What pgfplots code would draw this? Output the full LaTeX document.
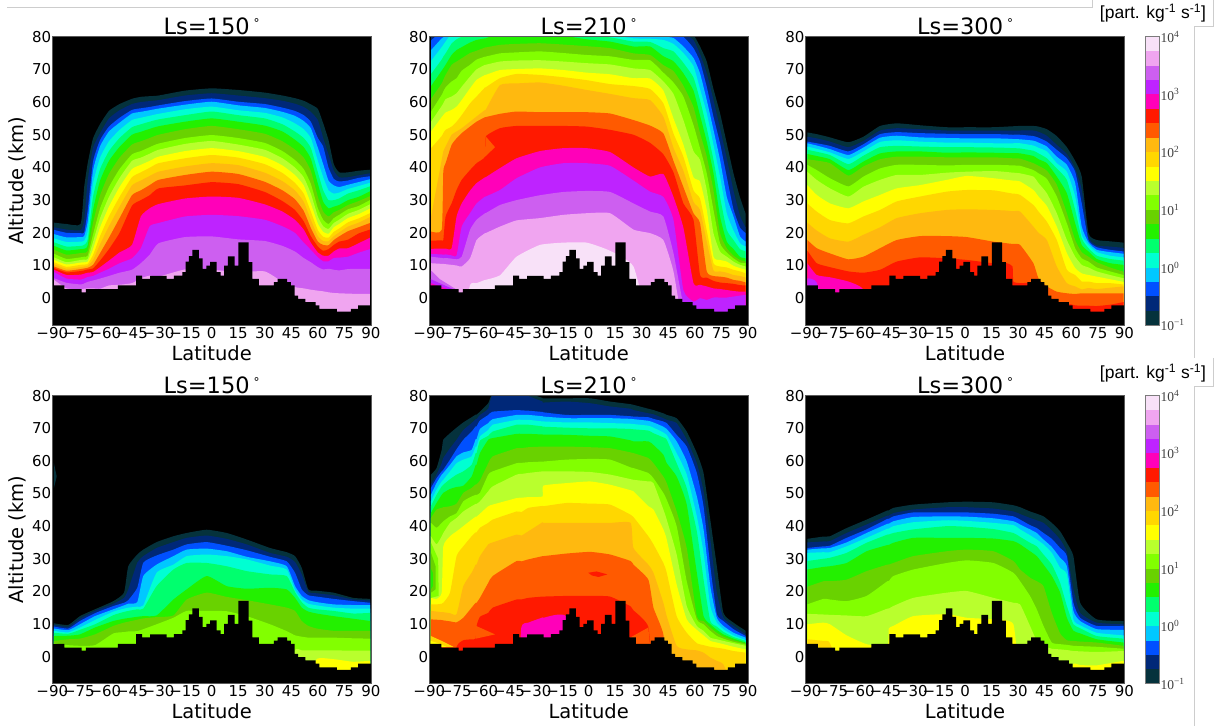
\documentclass[border=0pt]{standalone}
\usepackage{fontspec}
\setmainfont{DejaVu Sans}
\newfontfamily\libsans{Liberation Sans}
\newfontfamily\libserif{Liberation Serif}
\usepackage{pgfplots}
\usepackage{pgfplotstable}
\pgfplotsset{compat=1.18}
\definecolor{c1}{RGB}{5,50,60}
\definecolor{c2}{RGB}{0,40,120}
\definecolor{c3}{RGB}{0,80,255}
\definecolor{c4}{RGB}{0,200,255}
\definecolor{c5}{RGB}{0,255,210}
\definecolor{c6}{RGB}{0,255,110}
\definecolor{c7}{RGB}{35,240,0}
\definecolor{c8}{RGB}{105,210,0}
\definecolor{c9}{RGB}{130,255,0}
\definecolor{c10}{RGB}{185,255,45}
\definecolor{c11}{RGB}{255,255,0}
\definecolor{c12}{RGB}{255,215,0}
\definecolor{c13}{RGB}{255,185,15}
\definecolor{c14}{RGB}{255,90,0}
\definecolor{c15}{RGB}{255,25,0}
\definecolor{c16}{RGB}{255,0,185}
\definecolor{c17}{RGB}{190,35,255}
\definecolor{c18}{RGB}{205,95,240}
\definecolor{c19}{RGB}{240,165,240}
\definecolor{c20}{RGB}{248,225,248}
\definecolor{frame}{RGB}{90,90,90}
\definecolor{deco}{RGB}{205,205,205}

\pgfplotstableread{
lat alt
-90 -8.2
-90 3.9
-83.2 2.75
-73.4 1.8
-71 2.75
-52.9 3.9
-42.7 6.9
-39.2 5.9
-34.8 6.8
-25.4 5.9
-21.3 6.9
-16.6 8
-14.7 11.2
-12.8 12.9
-10.9 14.8
-7.2 12.2
-5.1 9
-3 10
-0.9 11.1
2.8 8
5.1 6.9
7 10
9.2 12.8
13 10
15.1 17.1
20.9 11
23 5.9
26.7 3.9
35.2 4.9
37.3 5.9
42.7 4.9
44.8 3.9
46.9 0.8
48.8 -0.2
52.9 -1.2
58.7 -2.2
60.8 -3.3
70.8 -4.1
78.7 -3.3
82.7 -2.2
90 -2.2
90 -8.2
}\terrain

\pgfplotstableread{
lat L1 L2 L3 L4 L5 L6 L7 L8 L9 L10 L11 L12 L13 L14 L15 L16 L17 L18 L19
-89 23.1 21.7 20.9 19.6 18.3 17.1 16 14.8 13.6 12.5 11.7 11 10.4 9.7 9.2 8.7 8 6.1 5.6
-82 22.7 21 20 18.6 17.2 15.8 14.6 13.3 12 11 10.3 9.6 9 8.4 7.9 7.1 6 4.7 3
-74 22.7 20.8 19.9 18.7 17.3 16 15 13.8 12.5 11.7 10.9 10.2 9.5 8.9 8.3 7.2 5.7 4.2 2.7
-72 34 24 20.1 19 17.6 16.3 15.1 13.9 12.7 11.8 11 10.3 9.7 9.1 8.5 7.5 6 4.5 2.9
-70 41.3 36 27 23.5 20.5 18 16.2 14.5 13 12 11.2 10.5 9.9 9.3 8.8 7.8 6.5 5 3
-67 48.9 46 41.8 39 35 31 27 23 19.5 17.2 15 13.2 11.7 10.2 9.1 8 6.8 5.4 3
-63 53.3 50.5 48.4 46.5 43 39.5 36 31.5 27.5 24.5 21.7 19 16.5 13.8 11.5 9.5 7.8 6 2.9
-58 57.3 55 52.5 51 48 45 42 38 34 31 28 25 22 18.5 15 11.5 9 6.8 3.9
-52 59.4 57.5 55.2 53.7 51.5 49 46.3 43 39.5 36.8 34 31 28 24.5 20 14 10.7 7.8 4.1
-45 61 59.4 57.6 56.5 54.5 52.3 50 47 44 42 39.5 37 34.5 31.5 28.3 16.3 12.2 8.7 4.6
-40 61.6 60 58.1 57 55.2 53.2 50.9 48 45 43 40.8 38.5 36 33 30 25 15.3 10.7 6.1
-35 61.8 60.3 58.5 57.5 55.8 54 51.8 49 46.2 44.2 42 39.9 37.4 34.6 31.5 27.5 22 13.3 6.9
-30 62 60.6 59 58 56.4 54.7 52.6 50 47.3 45.4 43.3 41.3 38.7 36.2 33.6 28.8 23 16.8 6.6
-15 63.5 62 60.3 59.2 57.8 56 54 51.7 49 47.2 45 42.8 40.3 37.7 34.5 30.5 25 18.7 8.8
0 64.2 62.7 61.1 60.1 58.6 57.1 55 52.7 49.9 48.1 45.9 43.8 41.3 38.7 35.5 31.1 25.5 18.9 8.7
15 63.7 62 60.1 59 57.5 56 54 51.7 49 47 45 43 40.7 38 34.9 30.7 25.1 18 8
30 62.9 61.2 59.4 58.2 56.7 55 52.8 50.3 47.5 45.4 43.2 41 38.4 35.6 32.5 28.7 24 17.5 8.2
40 62 60.4 58.3 57 55.3 53.2 51 48 45 42.8 40.6 38.3 35.8 33 29.7 26.5 22 16 5
47 61.2 59.5 57.3 55.8 53.5 51 48.5 45.5 42.3 40 37.7 35.3 33 30.3 27 24 20 14.3 3.4
52 60.4 58.5 56 54.2 51.7 49 46.2 43 39.5 37 34.5 32 29.5 26.7 23.5 21 17 12.3 3
56 59.3 57 54 52 49 46 42.7 39 35 32 29 26.5 24 21.5 19 17 14.8 11 2.6
60 57.9 54.5 49 46 42 38.5 35 31 27.5 25 22.8 20.8 19 17.3 15.8 14 12.5 9.5 2.3
63 53.5 49 46.4 41 37 33 29.5 26.5 24 22 20.3 18.8 17.5 16.3 14.5 13 11.3 8.8 2.1
66 48.4 44 40 36 33 30 27.5 25 22.7 21.2 19.7 18.5 17.4 16.2 15 13 11.3 9 1.8
69 41 39 36.5 34.5 32 30 28 26.3 24.5 23 21.7 20.3 19 17.8 16.3 14.3 12.3 8.7 1.6
72 38.5 37 35.7 34 32.3 30.5 28.5 27 25.5 24 22.7 21.3 20.1 18.9 17.3 15.2 12.4 8.5 1.5
77 38.5 37 36 34.7 33.4 32 30 28.5 27.2 25.8 24.5 23.2 21.9 20.5 17.9 15.3 12.7 8.9 1.4
83 39 37.6 36.8 35.5 34.3 33 31 29.7 28.2 27 25.7 24.4 23.1 21.7 19.8 16.8 13.9 9 1.3
89.4 39.3 38.2 37.3 36.4 35.3 34.2 32.7 31.2 30 28.7 27.4 26 24.8 23 21 18.5 15 9 1.3
}\tabA

\pgfplotstableread{
lat L1 L2 L3 L4 L5 L6 L7 L8 L9 L10 L11 L12 L13 L14 L15 L16 L17 L18 L19 L20
-89 81 80.5 78.8 75.9 72.6 68.6 64.9 61 57.1 54 51 45.9 25 20.4 17.6 15.1 13.5 12.7 10.7 -9
-83 85 84 82 79.5 76.8 73 69.6 65.7 62.2 58.8 55.4 49.6 42.3 20.9 17.7 15.2 13.4 12.3 10.5 -9
-82.1 85 84 83 79.8 77.5 73.9 70.3 66.8 63.2 59.6 56 50.5 44.9 38.7 17.8 15.2 13.3 12.2 10.5 -9
-80.8 85 85 84 81 78.5 74.9 71.4 68.3 64.5 60.9 56.8 51.5 46.4 41.3 25 15.2 13.4 12.3 10.4 -9
-77.4 85 85 84 82 81 77.9 74.4 71.4 66.3 61.7 57.6 52.5 50 46.9 29 15.3 13.1 12.1 10.2 -9
-74.6 85 85 84 82 81 79.2 75.9 72.4 67.3 62.7 58.6 54 51 48.9 33.1 25 13.1 11.9 10 -9
-71.7 85 85 84 82 81 80 76.8 73.4 69.6 64.7 60.6 56 52 50.5 36.2 29 21.9 12.7 9.7 -9
-67 85 85 84 82 82 81 78.2 75 71.4 67.8 64.2 59.6 54 52.5 39.2 32.9 26 20.9 12.2 4
-63.3 85 85 84 82 82 81.5 79 75.7 73 70 66.8 61.7 55.6 54 41.3 35.2 29 24 17.8 4.6
-58.5 85 85 84 83 82 81 79.5 76.7 73.9 71.4 68.3 64.5 57.6 55.4 43.3 37 31.1 26 19.9 5.6
-58.2 85 85 84 83 82 81 79.5 76.7 73.9 71.4 68.3 64.5 57.6 55.4 49.4 37 31.1 26 19.9 5.6
-50.1 85 85 84 83 82 81.5 81 77.5 74.9 72.4 69.8 67.3 65.2 56.4 52 39.8 33.1 28.5 21.9 7
-40.7 85 85 84 83 82 81.5 81 77.8 75.2 72.7 70.1 68.6 65.7 57.1 52.7 42.8 36.7 30 23.8 12.7
-27.5 85 85 84 83 82 81.5 81 78 75.5 72.8 70.3 68.3 66 56.9 52.7 45 40 31.5 24.5 16.3
-14.3 85 85 84 83 82 81 80.3 77.6 75 72.4 69.8 67.6 65 56.9 52.7 45.9 41.3 32.5 25.5 17
-1.1 85 85 84 83 81 80.4 79.2 77.1 74.4 71.9 69 66.7 63.7 56.9 52.5 45.9 41.3 32.8 26 17
12.1 85 85 84 81 80.5 79.8 78.5 76.5 74 71.5 68.5 65.5 62.5 56.5 51.5 44.7 40.5 32.5 26 14.5
25.3 85 85 81 80.3 79.5 78.5 77 74.9 72.9 70.3 67.3 64.9 61.2 54.5 50 40 36 29 21 9.7
34.7 85 82 81 80.5 79.4 78.4 77 74.4 72.8 69.8 67.2 64 60.6 52.8 47.5 37.2 32.6 26.5 19.9 -9
42.2 83 82 81 80 79 76.5 74 71.3 69 66.3 63.5 59.6 55.5 50.4 44 38 31 25 17.8 -9
47.9 83 82 81 79.6 77.8 75.5 72.5 69.5 66 62.5 55 50.4 46 42 38.5 31 24 13.8 8.2 -9
53.5 82 81 80 77 75 72 68.8 65 61.7 54.5 47 43.3 39 34 29 21.6 2.5 -2 -9 -9
59.2 80.5 79 76.5 73.5 71 67.5 63.5 58.5 53 45 37 33 29.5 26 24 4.6 -1 -9 -9 -9
62.9 77 74.7 72.4 68.8 64 60.6 55.9 50.5 45.9 42.3 35.7 30.5 27 23 7.1 4.1 0 -9 -9 -9
66.7 72.4 68.8 64.7 60.6 56.6 52 47.9 43.3 38.2 33.1 27 20.7 17.3 8.2 6.3 3.6 -0.5 -9 -9 -9
70.5 64 60.6 55.5 51.5 46.9 42.3 38.2 33 27 19.9 12.7 10.7 8.5 6.8 5.3 3 0.2 -9 -9 -9
74.2 56.6 52 47.4 42.3 37.2 31 25 19.9 16.8 14.3 11.7 9.7 8.2 6.6 4.8 2.8 0.2 -9 -9 -9
78 47.4 42.8 37.2 31 26 20.9 17.3 15.3 14 12.7 11.2 9.4 7.8 6.3 4.6 2.5 0.2 -9 -9 -9
81.8 38.2 32.9 27.2 25 20.7 17.8 15 13 12.2 11.2 9.9 8.7 7.1 5.6 4.4 2.2 0.5 -9 -9 -9
85.5 30.8 25.2 21.6 18.9 16.8 15 12.6 11.7 10.9 10.2 9.2 8.2 6.8 5.3 4 2 0.8 -9 -9 -9
88.7 25.8 21.6 19.9 17.3 15.8 14.3 12.2 11.2 10.7 9.7 8.7 7.6 6.3 4.8 3.9 2 1 -9 -9 -9
}\tabB

\pgfplotstableread{
lat L1 L2 L3 L4 L5 L6 L7 L8 L9 L10 L11 L12 L13 L14 L15 L16 L17
-89.1 50.7 49.4 47.9 47.4 46.4 45.4 44.1 42.5 40.8 38.7 34.6 29 23.1 17.8 14.6 10.7 6.1
-83.8 50.2 48.9 47.4 46.7 45.7 44.8 43.5 42.1 39.2 36.2 31.6 26.5 20.7 15.3 10.7 7.1 4.8
-76.3 49.2 47.9 46.6 45.6 44.6 43.8 42.5 41.3 36.7 33.6 29 23.9 18.3 13.7 9.5 6.4 -9
-65.9 47.7 46.2 44.9 43.8 42.6 41 39.2 37.5 34.2 31.1 27.5 22.9 17.3 11.9 8.2 5.1 -9
-57.4 49.4 48.1 47.1 46.1 44.9 43.6 41.8 40.3 37.2 34.1 29.6 25 19.4 12.7 7.8 2.7 -9
-48 52.7 51.3 50.2 49.1 47.8 46.2 44.3 42.5 39.7 36.2 31.6 27 21.7 15.3 8.7 -9 -9
-38.6 53.5 52 50.8 49.7 48.3 46.6 44.9 43.3 40.8 37.7 33.6 29.6 24.5 17.8 11.2 -9 -9
-25.4 52.9 51.7 50.5 49.2 47.9 46.4 44.9 43.3 40.8 37.7 34.6 31.1 26 19 12.5 -9 -9
-10.3 52.3 51.3 50.3 49 47.6 46.2 44.5 43.1 40.6 38.4 36.2 32.6 27 19 12.2 -9 -9
1 52.3 51.3 50.2 48.9 47.6 46.2 44.6 43.1 40.8 38.7 37.4 33.1 27.2 18.7 11.7 -9 -9
16 52.3 51.3 50.2 48.9 47.4 46.1 44.5 43.1 40.8 38.9 36.7 33 27 17.3 10.7 -9 -9
23.6 52.5 51.3 50.1 48.8 47.4 46 44.4 42.9 40.7 38.6 36.2 32.3 26.8 16.8 10.7 -9 -9
26.8 52.6 51.3 50 48.7 47.4 45.9 44.4 42.8 40.6 38.4 36 32 26.6 16.6 9.7 -9 -9
27.3 52.6 51.3 50 48.7 47.4 45.9 44.4 42.8 40.6 38.4 36 32 26.6 16.6 5.1 -9 -9
31.1 52.7 51.3 50 48.6 47.4 45.8 44.3 42.7 40.5 38.2 35.7 31.6 26.5 16.3 4.6 -9 -9
38.6 52.7 51.3 49.6 48.2 46.7 45.1 43.5 41.3 39.2 37.2 33.1 28.5 21.9 10.7 4 -9 -9
41.5 52.5 50.9 49.1 47.6 46 44.3 42.5 40.5 38.2 35.2 31.1 26.5 20 6 -9 -9 -9
46.2 51.7 49.7 47.9 46.4 44.9 42.8 41.3 39 36.5 32.1 28.2 23.4 17.8 3.6 -9 -9 -9
51.8 49.6 46.9 45.4 43.3 41.3 39.7 37.2 34.7 31.1 26 21.9 17.8 9.7 2 -9 -9 -9
57.5 46.2 44.1 42.8 40.8 38.7 36.2 32.1 26 22.9 17.8 13.8 8.7 4.6 1.5 -2 -9 -9
62.2 42 39.7 38.7 35.2 31.1 27 22.9 17.8 15.3 12.7 9.2 7.1 3.6 1.3 -2.2 -9 -9
65.9 37.2 33.1 29 21.9 19.4 18.3 16.3 14.1 12.2 10.2 7.6 5.1 2.7 1.5 -2.3 -9 -9
69.7 19.9 18.7 17.8 17.1 16.3 15.3 14.3 12.7 11.2 9.4 7.1 5.1 3.1 1.5 -2.3 -9 -9
74.4 17.8 16.1 15.6 14.8 14.1 13 12 11 9.4 8.2 6.6 4.6 2.8 1.5 -2.4 -9 -9
81.9 17.4 15.8 14.8 14.1 13 12 10.7 9.4 8.2 7.1 5.8 4.6 3.2 1.5 -2 -9 -9
89.5 17 15.4 14.3 13.6 12.5 11.5 10.2 8.1 7.1 6.1 5 4.2 3.6 1.5 -1.2 -9 -9
}\tabC

\pgfplotstableread{
lat L1 L2 L3 L4 L5 L6 L7 L8 L9 L10 L11
-89.1 10.2 9.7 9.2 8.6 7.9 7.3 6.3 4.8 4.1 -9 -9
-81 9.7 9.1 8.6 8.1 7.4 7 6.4 5.3 3.5 -9 -9
-74.4 12.4 11.6 10.9 9.9 8.9 8.2 6.8 5.5 3.3 -9 -9
-65.9 14.5 14 13.3 12.4 11.2 9.9 8.9 6.8 3.5 -9 -9
-55.5 17 16.2 15.5 14.5 13.8 12.7 10.9 9.4 7.1 -9 -9
-49.5 19.6 18 16.5 15.7 14.7 13.7 11.6 10.4 7.5 -9 -9
-47.1 27.7 20.6 17.3 16.2 15 14 11.8 10.7 7.7 -9 -9
-42 31.3 28.8 21.1 16.7 15.3 14.5 12.2 11.3 7.8 -9 -9
-38.6 32.8 30.8 28.8 24.7 15.7 14.7 12.4 11.7 8.4 -9 -9
-31.1 35.1 33.3 31 28.2 25.7 21.6 12.6 12.1 9.9 -9 -9
-21.6 36.9 35.1 32.8 30.8 28.2 26.7 17.5 12.6 11.9 -9 -9
-14.1 37.9 36.4 34.4 32.8 30.8 28.7 20.6 17.5 14 -9 -9
-2.8 38.9 37.1 35.1 33.1 31.3 28.7 24.7 19.6 14 -9 -9
8.5 37.9 36.1 34 32.3 30.8 27.7 21.6 18.3 13.9 -9 -9
19.8 35.9 34.4 32.6 30.6 29.8 26.2 20.8 17.3 12.4 -9 -9
33 33.3 31.8 30.6 29.2 27.9 25.2 21.1 16 9.9 -9 -9
42.4 32 30.6 29.2 27.7 26.7 24.7 20.6 15 7.8 -9 -9
47.1 30.8 29 25.7 21.6 20.4 19.8 18 14 6.5 2 -9
50.9 27.2 25.2 20.6 18.6 17.5 16.7 15 10.9 6.1 1.9 -9
54.6 20.6 19.9 18.8 17.3 16.2 15 13.8 9.4 5.8 1.9 -9
59.3 20.2 19.4 18.4 16.7 15.7 14.5 13.2 8.6 5.8 1.9 -0.8
68.8 19.6 18.8 17.7 16 15 14 12.4 7.9 5.8 1.9 -0.8
80 18 17.5 17 15.8 14.7 13.2 11.6 7.9 5.6 1.8 -1.6
89.5 17.7 17.2 16.5 15.8 14.7 13.4 10.9 7.9 5.5 1.8 -1.3
}\tabD

\pgfplotstableread{
lat L1 L2 L3 L4 L5 L6 L7 L8 L9 L10 L11 L12 L13 L14 L15 L16
-89.1 55.8 52.7 51.7 49.6 47.6 46.1 44 42.5 41 36.9 18 16 14 11.4 -9 -9
-85.9 57.8 55.8 54.7 53.2 51.2 49.6 47.1 45.1 39.5 34.4 17.7 16 13.8 11.3 -9 -9
-83 63.4 59.3 56.8 55.8 53.7 52.2 49.6 45.6 41 36.9 19.6 16.2 13.6 11.2 -9 -9
-82.1 66.5 60.9 57.3 56.3 54.2 52.7 50.2 45.8 41.5 37.9 33.8 16.5 13.6 11.1 -9 -9
-78.3 68.5 63.9 60.4 58.8 56.8 54.4 51.4 46.1 43 41 36.9 19.6 13.3 10.8 -9 -9
-74.6 70.2 66.5 63.6 61.4 59.3 55.8 52 46.9 44 42.5 38.4 30.8 13 10.5 3 -9
-70.8 71.8 69.5 66.5 62.6 60.4 56.8 52.4 50.2 47.6 44.5 40 33.8 21.6 11.9 5 -9
-66.1 73.4 71.6 69 63.4 61.4 58.8 55.2 51.7 49.1 46.1 42 36.9 25.7 15 5.3 -9
-63.8 74.2 72.8 70.6 66.7 64.4 62.4 58.8 52.8 49.6 46.8 42.9 38.1 28.2 16.5 5.5 -9
-63.3 74.2 72.8 70.6 66.7 64.4 62.4 58.8 52.8 49.6 46.8 42.9 38.1 28.2 16.5 9.4 -9
-61.4 75.1 74.1 72.4 69.8 67.5 66.2 62.4 54 50.2 47.6 43.8 39.5 30.8 18 12.2 -9
-56.7 77.7 76 74.1 71.6 69.5 67.7 66.5 59.3 55.8 50.7 46.1 41 34.4 22.6 13.4 -9
-54.2 80.4 80.2 75.1 72.8 71.1 69 67 61.4 56.8 52.2 46.6 42 35 24.7 15 -9
-40.7 80.7 80.7 75.6 74.1 72.6 71.1 68.3 63.9 59.3 55.8 48.6 44.5 37.4 29.3 17.5 -9
-38 80.7 80.7 75.5 74.1 72.6 71.1 68.3 63.9 59.4 56 48.7 44.3 37.1 29.2 17.5 9
-34.1 80.7 79.9 75.4 74.1 72.6 71.1 68.3 64.2 59.6 56.3 48.9 45.6 38.4 29.8 18 10.4
-26 79.3 78.2 75 73.7 72.1 70.6 68.1 64.4 59.8 56.8 49.1 46.2 41.2 30.8 18.4 12
-25.6 79.2 77.9 74.9 73.6 72.1 70.5 68.1 64.4 59.8 56.8 52.4 46.1 41 30.8 18.4 11.9
-12.4 79.2 78.2 74.1 73.1 71.8 70.2 68 64.4 60.4 56.8 53.2 47.1 41 31.6 18.6 12.2
0.8 79.2 77.7 74.1 73.1 71.8 70 67.7 64.2 60.6 56.6 53.7 46.9 41 32.1 18.6 -9
12.1 78.2 76.7 74.1 73.1 71.6 70 67.5 63.9 60.4 55.8 52.7 46.6 41 31.3 18.4 -9
23.7 77.4 76 73.7 72.9 71.4 69.8 66.3 62.6 58 54.4 51 43.5 41 29.3 15.4 -9
25.3 77.2 75.6 73.6 72.8 71.3 69.7 66 62.4 57.8 54.2 50.7 42.8 33.3 28.2 14.2 -9
33.7 76 74.6 73.4 72.3 70.8 69.3 66 60.9 56.3 53.7 46.1 36.9 28.2 23.6 9.1 -9
36.6 75.6 74.3 72.9 71.8 70.2 68.5 64.9 59.3 54.7 53.2 45.1 34.4 25.7 15 -9 -9
42.2 74.6 73.1 72.1 70.5 68.7 67.2 61.9 55.2 50.2 45.1 39 28.7 16.5 6.8 -9 -9
44.1 74.1 72.6 71.6 69.8 68 66.5 59.3 53.2 48.1 42 35.9 25.7 12.4 -9 -9 -9
49.7 73.1 71.6 68 66 62.4 59.3 55.2 44.5 40 31.3 22.1 12.4 3.3 -9 -9 -9
55.4 69 66.5 64.4 59.8 55.8 51.7 46.6 33.3 23.1 15.5 11.4 7.3 2.2 -9 -9 -9
61.1 62.4 59.3 56.3 49.1 43 38.4 25.7 12.4 11.4 9.4 8.2 4.1 1.9 -9 -9 -9
64.9 56.3 50.7 46.1 39 31.8 23.6 12.4 10.9 9.9 7.9 6.5 3.5 1.2 -9 -9 -9
68.7 42 35.9 27.7 21.6 15.5 10.9 9.9 8.9 7.9 5.8 4.8 3 -0.3 -9 -9 -9
72.4 27.7 19.6 13 11.9 10.4 9.2 8.2 7.3 6.3 5.3 4.3 2.7 -1.3 -9 -9 -9
76.1 13.4 11.9 10.9 9.4 8.4 7.6 6.8 6.1 5.5 4.8 3.8 2.4 -2.4 -9 -9 -9
81.8 10.4 9.4 8.4 7.3 6.5 6 5.5 5 4.5 4.1 3 1.7 -9 -9 -9 -9
88.7 7.9 6.8 6.3 5.8 5.1 4.8 4.3 4 3.7 3.3 2.2 1.2 -9 -9 -9 -9
}\tabE

\pgfplotstableread{
lat L1 L2 L3 L4 L5 L6 L7 L8 L9 L10 L11 L12
-89.1 36.1 35 33.3 32.8 31.8 29.3 26.7 21.4 16 13.1 9.9 5.3
-80 36.8 35.3 33.8 33.2 32 30 27.5 23.1 17.7 12.9 10.4 4.8
-76.3 36.9 35.4 34 33.3 32 30.3 27.7 23.1 17.5 12.8 9.9 4.1
-66.9 39.4 37.9 36.4 35 33.8 31.8 28.7 23.6 17 12.6 6.5 -9
-55.6 42 40.5 39 37.9 36.4 34.9 32.3 26.2 18.6 12.4 3.8 -9
-43.9 44.8 43.2 42.2 40.7 39.2 37.4 34.2 28.2 23.1 14.7 3.3 -9
-43.1 44.8 43.2 42.2 40.7 39.2 37.4 34.2 28.2 23.1 14.7 8.6 -9
-40.5 45.6 44 43 41.5 40 37.9 34.9 28.7 24.7 15.5 9.4 -9
-29.2 46.6 45.1 44.2 42.8 41.2 39 36.4 30.8 26.7 18 12.4 -9
-10.3 47.3 45.8 44.2 43 41.8 40 36.4 32.3 28.7 19.6 13 -9
1 47.5 45.8 44.2 42.9 41.6 39.8 36.4 32.8 29.5 20.1 11.9 -9
16 47.3 45.4 43.8 42.4 41 39.1 36.2 32.3 28.7 18 11.4 -9
27.3 46.4 44.5 43 41.5 40.3 37.9 35.4 29.3 25.7 16.5 9.9 -9
31.1 45.8 43.7 42 40.5 39 36.7 34.4 26.7 23.1 16 -9 -9
36.7 44.5 42.5 40.3 39 37.2 34.9 32.3 24.2 18.6 9.4 -9 -9
40.5 43.8 41.8 39.4 37.9 35.9 33.8 30.8 23.1 14.5 4.8 -9 -9
44.3 43 41 37.9 35.9 34.4 31.3 28.2 21.6 9.4 3.3 -9 -9
49 41 38.7 36.1 33.6 31.8 28.2 24.7 13.4 4.3 2.4 -9 -9
53.7 38.4 35.9 33.3 30.3 27.2 22.6 19.6 7.1 3.8 2.2 -9 -9
57.5 34.9 32 30.8 27.7 25.2 15.5 11.9 5 3.6 2 -9 -9
61.2 30.8 20.6 16.5 14 11.4 9.9 7.9 4.8 3.3 1.7 -2.3 -9
65 16.5 13.4 11.9 10.9 9.6 8.7 7.1 4.6 3.2 1.6 -2.6 -9
74.4 11.4 10.4 9.4 8.4 7.3 6.3 5.3 4.3 3 1.4 -2.7 -9
89.5 10.9 9.9 9.4 8.2 6.5 5.5 4.3 3.3 2.4 1.7 -1.3 -9
}\tabF

\newcommand\levels[4]{\pgfplotsinvokeforeach{#2}{\addplot[fill=c##1,draw=none,smooth,tension=0.3] table[x=lat,y=L##1]{#1} -- (axis cs:#4,-8.2) -- (axis cs:#3,-8.2) -- cycle;}}
\newcommand\patch[2]{\addplot[fill=#1,draw=none] coordinates {#2} -- cycle;}
\newcommand\ground{\addplot[fill=black,draw=none,const plot] table[x=lat,y=alt]{\terrain} -- cycle;}
\newcommand\band[3]{\addplot[fill=#1,draw=none] coordinates {(0,#2) (1,#2) (1,#3) (0,#3)} -- cycle;}
\newcommand\degsym{\hspace{4pt}\raisebox{7pt}{\fontsize{12}{12}\selectfont °}}

\pgfplotsset{
  panel/.style={
    scale only axis, width=318.7pt,
    xmin=-90, xmax=90, ymin=-8.2, ymax=80,
    axis background/.style={fill=black},
    axis on top,
    axis line style={draw=frame,line width=0.8pt},
    major tick length=0pt,
    xtick={-90,-75,-60,-45,-30,-15,0,15,30,45,60,75,90},
    xticklabels={−90,−75,−60,−45,−30,−15,0,15,30,45,60,75,90},
    ytick={0,10,20,30,40,50,60,70,80},
    yticklabels={0,10,20,30,40,50,60,70,80},
    tick label style={font=\fontsize{15}{15}\selectfont},
    xticklabel style={inner sep=1pt,yshift=-1pt},
    yticklabel style={inner sep=1pt},
    xlabel={Latitude},
    xlabel style={at={(axis description cs:0.5,-0.097)},anchor=center,font=\fontsize{19.5}{19.5}\selectfont},
    title style={at={(axis description cs:0.5,1)},anchor=base,yshift=-4pt,font=\fontsize{22.5}{22.5}\selectfont},
  },
  leftlab/.style={
    ylabel={Altitude (km)},
    ylabel style={at={(axis description cs:-0.11,0.5)},anchor=center,font=\fontsize{19.5}{19.5}\selectfont},
  },
  cbar/.style={
    scale only axis, width=14.3pt,
    xmin=0, xmax=1, ymin=-1, ymax=4,
    axis on top,
    axis line style={draw=frame!80,line width=0.6pt},
    major tick length=0pt,
    xtick=\empty,
    ytick={-1,0,1,2,3,4},
    yticklabels={10\textsuperscript{−1},10\textsuperscript{0},10\textsuperscript{1},10\textsuperscript{2},10\textsuperscript{3},10\textsuperscript{4}},
    yticklabel pos=right,
    yticklabel style={font=\libserif\fontsize{13.5}{13.5}\selectfont,inner sep=1pt,color=black!75},
  },
}

\begin{document}
\begin{tikzpicture}
\path[use as bounding box] (0,0) rectangle (1225pt,726pt);

\begin{axis}[panel,leftlab,height=288.3pt,at={(52.3pt,401pt)},anchor=south west,title={Ls=150\degsym}]
\levels{\tabA}{1,...,19}{-89}{89.4}
\ground
\end{axis}

\begin{axis}[panel,height=288.3pt,at={(429.3pt,401pt)},anchor=south west,title={Ls=210\degsym}]
\levels{\tabB}{1,...,20}{-89}{88.7}
\patch{c18}{(-89.1,8.5) (-84,5.8) (-73.6,2.3) (-89.1,2.3)}
\patch{c17}{(-89.1,5.8) (-82.1,4.1) (-75.5,2.5) (-89.1,2.5)}
\patch{c16}{(-89.1,4.6) (-84,3.6) (-79.3,2.7) (-89.1,2.7)}
\patch{c14}{(-58.3,49.6) (-52.9,46.2) (-58.5,43.3)}
\ground
\end{axis}

\begin{axis}[panel,height=288.3pt,at={(805.7pt,401pt)},anchor=south west,title={Ls=300\degsym}]
\levels{\tabC}{1,...,17}{-89.1}{89.5}
\ground
\end{axis}

\begin{axis}[panel,leftlab,height=287.6pt,at={(52.3pt,42.7pt)},anchor=south west,title={Ls=150\degsym}]
\levels{\tabD}{1,...,11}{-89.1}{89.5}
\patch{c1}{(-89.1,59.3) (-87.5,55.2) (-89.1,51.7)}
\ground
\end{axis}

\begin{axis}[panel,height=287.6pt,at={(429.3pt,42.7pt)},anchor=south west,title={Ls=210\degsym}]
\levels{\tabE}{1,...,16}{-89.1}{88.7}
\patch{c9}{(-89.1,35) (-85,30) (-84.7,18.6) (-89.1,18)}
\patch{c8}{(-89.1,32) (-86.5,27.7) (-86.5,20.6) (-89.1,19.6)}
\patch{c7}{(-89.1,27) (-88,25.7) (-88,21.6) (-89.1,20.6)}
\patch{c14}{(-63.6,9.4) (-52.9,6.8) (-63.6,5.5)}
\patch{c14}{(23.4,5.8) (33.7,8.9) (34.7,3.3) (23.4,3.3)}
\patch{c15}{(-0.2,25.7) (4.5,26.1) (10.6,25.2) (5.5,24.4) (1.7,24.9)}
\patch{c12}{(-89.1,6.3) (-83,4.8) (-76.4,3) (-89.1,3)}
\patch{c11}{(-89.1,4.8) (-84,3.9) (-80.5,3) (-89.1,3)}
\ground
\end{axis}

\begin{axis}[panel,height=287.6pt,at={(805.7pt,42.7pt)},anchor=south west,title={Ls=300\degsym}]
\levels{\tabF}{1,...,12}{-89.1}{89.5}
\ground
\end{axis}

\begin{axis}[cbar,height=288.6pt,at={(1145pt,400.7pt)},anchor=south west]
\band{c1}{-1}{-0.75}\band{c2}{-0.75}{-0.5}\band{c3}{-0.5}{-0.25}\band{c4}{-0.25}{0}
\band{c5}{0}{0.25}\band{c6}{0.25}{0.5}\band{c7}{0.5}{0.75}\band{c8}{0.75}{1}
\band{c9}{1}{1.25}\band{c10}{1.25}{1.5}\band{c11}{1.5}{1.75}\band{c12}{1.75}{2}
\band{c13}{2}{2.25}\band{c14}{2.25}{2.5}\band{c15}{2.5}{2.75}\band{c16}{2.75}{3}
\band{c17}{3}{3.25}\band{c18}{3.25}{3.5}\band{c19}{3.5}{3.75}\band{c20}{3.75}{4}
\end{axis}

\begin{axis}[cbar,height=288pt,at={(1145pt,42.3pt)},anchor=south west]
\band{c1}{-1}{-0.75}\band{c2}{-0.75}{-0.5}\band{c3}{-0.5}{-0.25}\band{c4}{-0.25}{0}
\band{c5}{0}{0.25}\band{c6}{0.25}{0.5}\band{c7}{0.5}{0.75}\band{c8}{0.75}{1}
\band{c9}{1}{1.25}\band{c10}{1.25}{1.5}\band{c11}{1.5}{1.75}\band{c12}{1.75}{2}
\band{c13}{2}{2.25}\band{c14}{2.25}{2.5}\band{c15}{2.5}{2.75}\band{c16}{2.75}{3}
\band{c17}{3}{3.25}\band{c18}{3.25}{3.5}\band{c19}{3.5}{3.75}\band{c20}{3.75}{4}
\end{axis}

\draw[deco,line width=0.8pt] (7pt,718.5pt) -- (1092pt,718.5pt) -- (1092pt,726pt);
\draw[deco,line width=0.8pt] (1213pt,726pt) -- (1213pt,700pt) -- (1194pt,700pt) -- (1194pt,368pt);
\draw[deco,line width=0.8pt] (1213pt,368pt) -- (1213pt,340pt) -- (1194pt,340pt) -- (1194pt,0pt);
\node[font=\libsans\fontsize{17.5}{17.5}\selectfont,inner sep=0pt] at (1153pt,713pt) {[part. kg\textsuperscript{-1} s\textsuperscript{-1}]};
\node[font=\libsans\fontsize{17.5}{17.5}\selectfont,inner sep=0pt] at (1153pt,353pt) {[part. kg\textsuperscript{-1} s\textsuperscript{-1}]};
\end{tikzpicture}
\end{document}
